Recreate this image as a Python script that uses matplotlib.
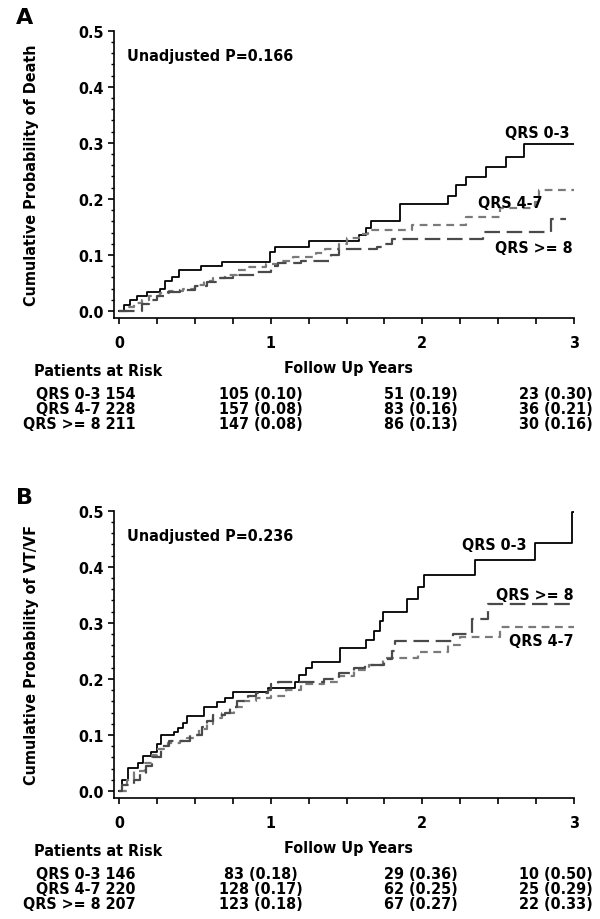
import matplotlib
matplotlib.use("Agg")
import matplotlib.pyplot as plt
from matplotlib.ticker import MultipleLocator

# ---- data (years, cumulative probability) ----
death_t_03 = [0, 0.03, 0.07, 0.12, 0.185, 0.27, 0.30, 0.35, 0.395, 0.54, 0.68, 0.995, 1.03, 1.25,
              1.58, 1.63, 1.66, 1.856, 2.17, 2.22, 2.29, 2.42, 2.55, 2.67, 3.0]
death_p_03 = [0, 0.010, 0.019, 0.027, 0.033, 0.040, 0.053, 0.060, 0.073, 0.080, 0.088, 0.105, 0.114, 0.124,
              0.135, 0.148, 0.160, 0.190, 0.206, 0.224, 0.239, 0.256, 0.274, 0.297, 0.297]
death_t_47 = [0, 0.05, 0.1, 0.15, 0.2, 0.27, 0.33, 0.42, 0.5, 0.56, 0.62, 0.7, 0.78, 0.85, 0.97, 1.05,
              1.15, 1.3, 1.36, 1.45, 1.5, 1.58, 1.64, 1.93, 2.29, 2.51, 2.74, 2.77, 3.0]
death_p_47 = [0, 0.008, 0.014, 0.020, 0.026, 0.032, 0.036, 0.040, 0.047, 0.053, 0.058, 0.065, 0.073, 0.078,
              0.084, 0.090, 0.097, 0.103, 0.110, 0.120, 0.130, 0.138, 0.145, 0.154, 0.168, 0.183, 0.195,
              0.215, 0.215]
death_t_8 = [0, 0.15, 0.2, 0.25, 0.32, 0.4, 0.5, 0.58, 0.66, 0.75, 0.9, 1.0, 1.05, 1.2, 1.4, 1.45, 1.7,
             1.75, 1.8, 2.4, 2.85, 2.95]
death_p_8 = [0, 0.012, 0.020, 0.027, 0.033, 0.038, 0.045, 0.052, 0.058, 0.064, 0.070, 0.080, 0.085, 0.089,
             0.099, 0.110, 0.115, 0.120, 0.129, 0.141, 0.164, 0.164]

vt_t_03 = [0, 0.02, 0.058, 0.127, 0.16, 0.21, 0.248, 0.278, 0.362, 0.387, 0.42, 0.45, 0.56, 0.646, 0.70,
           0.75, 0.98, 1.16, 1.185, 1.235, 1.27, 1.46, 1.63, 1.68, 1.72, 1.74, 1.90, 1.97, 2.01, 2.35,
           2.74, 2.99, 3.0]
vt_p_03 = [0, 0.020, 0.041, 0.050, 0.063, 0.070, 0.083, 0.100, 0.105, 0.113, 0.122, 0.133, 0.150, 0.158,
           0.166, 0.177, 0.183, 0.195, 0.207, 0.220, 0.230, 0.255, 0.270, 0.286, 0.303, 0.320, 0.342,
           0.364, 0.386, 0.412, 0.443, 0.497, 0.497]
vt_t_47 = [0, 0.05, 0.1, 0.17, 0.22, 0.25, 0.32, 0.4, 0.45, 0.5, 0.53, 0.58, 0.62, 0.68, 0.76, 0.82, 0.9,
           1.0, 1.1, 1.2, 1.35, 1.45, 1.55, 1.65, 1.74, 1.97, 2.17, 2.25, 2.51, 3.0]
vt_p_47 = [0, 0.020, 0.035, 0.050, 0.065, 0.075, 0.085, 0.090, 0.095, 0.100, 0.110, 0.120, 0.130, 0.140,
           0.150, 0.160, 0.165, 0.170, 0.180, 0.190, 0.195, 0.205, 0.215, 0.225, 0.237, 0.248, 0.260,
           0.275, 0.293, 0.293]
vt_t_8 = [0, 0.02, 0.1, 0.14, 0.18, 0.22, 0.28, 0.33, 0.47, 0.55, 0.58, 0.62, 0.7, 0.73, 0.78, 0.85, 0.9,
          0.98, 1.0, 1.05, 1.35, 1.45, 1.55, 1.62, 1.75, 1.8, 1.82, 2.2, 2.33, 2.43, 3.0]
vt_p_8 = [0, 0.010, 0.020, 0.030, 0.045, 0.060, 0.080, 0.090, 0.100, 0.115, 0.125, 0.135, 0.140, 0.150,
          0.160, 0.170, 0.175, 0.180, 0.190, 0.195, 0.200, 0.210, 0.220, 0.225, 0.235, 0.250, 0.267,
          0.280, 0.306, 0.333, 0.333]

groups = ["QRS 0-3", "QRS 4-7", "QRS >= 8"]
x_ticks = [0, 1, 2, 3]
risk_death = [["QRS 0-3 154", "105 (0.10)", "51 (0.19)", "23 (0.30)"],
              ["QRS 4-7 228", "157 (0.08)", "83 (0.16)", "36 (0.21)"],
              ["QRS >= 8 211", "147 (0.08)", "86 (0.13)", "30 (0.16)"]]
risk_vt = [["QRS 0-3 146", "83 (0.18)", "29 (0.36)", "10 (0.50)"],
           ["QRS 4-7 220", "128 (0.17)", "62 (0.25)", "25 (0.29)"],
           ["QRS >= 8 207", "123 (0.18)", "67 (0.27)", "22 (0.33)"]]

plt.rcParams["font.family"] = ["DejaVu Sans"]
plt.rcParams["font.stretch"] = "condensed"
plt.rcParams["font.weight"] = "bold"
FS = 11.5

W, H = 600, 920
fig = plt.figure(figsize=(W / 100, H / 100), dpi=100)


def fy(py):
    return 1 - py / H


def fx(px):
    return px / W


styles = [dict(color="black", lw=1.3, ls="-"),
          dict(color="#7a7a7a", lw=1.6, ls=(0, (3.5, 2.5))),
          dict(color="#4a4a4a", lw=1.6, ls=(0, (7, 3)))]


def panel(top, letter, ylabel, curves, pval, labels, risk):
    height = 287.3
    ax = fig.add_axes([fx(114), fy(top + height), fx(574) - fx(114), height / H])
    for (t, p), st in zip(curves, styles):
        ax.step(t, p, where="post", **st)
    ax.set_xlim(-0.033, 3.0)
    ax.set_ylim(-0.0125, 0.5)
    ax.set_xticks(x_ticks)
    ax.set_xticklabels([str(v) for v in x_ticks])
    ax.xaxis.set_minor_locator(MultipleLocator(0.25))
    ax.set_yticks([0, 0.1, 0.2, 0.3, 0.4, 0.5])
    ax.set_yticklabels(["0.0", "0.1", "0.2", "0.3", "0.4", "0.5"])
    ax.yaxis.set_minor_locator(MultipleLocator(0.02))
    for s in ["top", "right"]:
        ax.spines[s].set_visible(False)
    for s in ["left", "bottom"]:
        ax.spines[s].set_linewidth(1.2)
    ax.tick_params(axis="x", which="both", direction="out", length=4, width=1.2,
                   labelsize=FS, pad=8)
    ax.tick_params(axis="y", which="major", direction="out", length=4, width=1.2,
                   labelsize=FS, pad=3)
    ax.tick_params(axis="y", which="minor", direction="out", length=2.5, width=1)
    fig.text(fx(32), fy(top + height / 2), ylabel, fontsize=FS, rotation=90,
             ha="center", va="center")
    ax.text(0.053, 0.455, pval, fontsize=FS, va="center", ha="left")
    for txt, (x, y) in labels.items():
        ax.text(x, y, txt, fontsize=FS, va="center", ha="right")

    fig.text(fx(25), fy(top - 14), letter, fontsize=16, fontstretch="normal",
             ha="center", va="center")
    fig.text(fx(98), fy(top + 340), "Patients at Risk", fontsize=FS, ha="center", va="center")
    fig.text(fx(348), fy(top + 337), "Follow Up Years", fontsize=FS, ha="center", va="center")
    for i, row in enumerate(risk):
        yy = fy(top + 363 + 15 * i)
        fig.text(fx(136), yy, row[0], fontsize=FS, ha="right", va="center")
        for cx, cell in zip([261, 421, 556], row[1:]):
            fig.text(fx(cx), yy, cell, fontsize=FS, ha="center", va="center")
    return ax


panel(31.7, "A", "Cumulative Probability of Death",
      [(death_t_03, death_p_03), (death_t_47, death_p_47), (death_t_8, death_p_8)],
      "Unadjusted P=0.166",
      {groups[0]: (2.97, 0.319), groups[1]: (2.79, 0.194), groups[2]: (2.99, 0.114)},
      risk_death)
panel(511.7, "B", "Cumulative Probability of VT/VF",
      [(vt_t_03, vt_p_03), (vt_t_47, vt_p_47), (vt_t_8, vt_p_8)],
      "Unadjusted P=0.236",
      {groups[0]: (2.69, 0.44), groups[2]: (3.0, 0.35), groups[1]: (3.0, 0.268)},
      risk_vt)

fig.savefig("out.png", dpi=100)
